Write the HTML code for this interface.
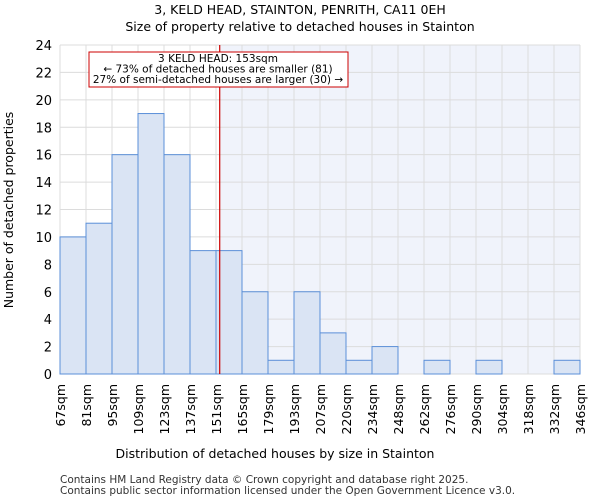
<!DOCTYPE html>
<html><head><meta charset="utf-8"><style>body{margin:0;background:#fff}svg{display:block;font-family:"DejaVu Sans","Liberation Sans",sans-serif}</style></head>
<body>
<svg id="chart" width="600" height="500">
<text x="300" y="14" text-anchor="middle" font-size="12.5">3, KELD HEAD, STAINTON, PENRITH, CA11 0EH</text>
<text x="300" y="31" text-anchor="middle" font-size="12.5">Size of property relative to detached houses in Stainton</text>
<g id="plot"></g>
<text x="275" y="458" text-anchor="middle" font-size="12.5">Distribution of detached houses by size in Stainton</text>
<text transform="translate(13,210) rotate(-90)" text-anchor="middle" font-size="12.5">Number of detached properties</text>
<text x="60" y="483" font-size="10.5" fill="#333">Contains HM Land Registry data © Crown copyright and database right 2025.</text>
<text x="60" y="494" font-size="10.5" fill="#333">Contains public sector information licensed under the Open Government Licence v3.0.</text>
</svg>
<script>
const binLabels=["67sqm","81sqm","95sqm","109sqm","123sqm","137sqm","151sqm","165sqm","179sqm","193sqm","207sqm","220sqm","234sqm","248sqm","262sqm","276sqm","290sqm","304sqm","318sqm","332sqm","346sqm"];
const counts=[10,11,16,19,16,9,9,6,1,6,3,1,2,0,1,0,1,0,0,1];
const yTicks=[0,2,4,6,8,10,12,14,16,18,20,22,24];
const markerValue=153;
const binEdges=[67,81,95,109,123,137,151,165,179,193,207,220,234,248,262,276,290,304,318,332,346];
const X0=60,X1=580,Y0=374,Y1=45,YMAX=24;
const n=counts.length,bw=(X1-X0)/n;
const xi=i=>X0+i*bw;
const y=v=>Y0-(v/YMAX)*(Y0-Y1);
function xv(v){for(let i=0;i<binEdges.length-1;i++){if(v<=binEdges[i+1])return xi(i)+(v-binEdges[i])/(binEdges[i+1]-binEdges[i])*bw;}return X1;}
const g=document.getElementById('plot');const NS='http://www.w3.org/2000/svg';
function mk(t,a){const e=document.createElementNS(NS,t);for(const k in a)e.setAttribute(k,a[k]);g.appendChild(e);return e;}
const mx=xv(markerValue);
let e=mk('rect',{x:mx,y:Y1,width:X1-mx,height:Y0-Y1,fill:'#f0f3fb'});


yTicks.forEach(t=>{const l=mk('line',{x1:X0,x2:X1,y1:y(t),y2:y(t),stroke:'#dcdcdc'});


const tx=mk('text',{x:X0-8,y:y(t)+5,'text-anchor':'end','font-size':13});tx.textContent=t;

});
binLabels.forEach((s,i)=>{const l=mk('line',{x1:xi(i),x2:xi(i),y1:Y1,y2:Y0,stroke:'#dcdcdc'});


const tx=mk('text',{transform:`translate(${xi(i)+5},${Y0+10}) rotate(-90)`,'text-anchor':'end','font-size':12.5});tx.textContent=s;

});
counts.forEach((c,i)=>{if(!c)return;const r=mk('rect',{x:xi(i),y:y(c),width:bw,height:Y0-y(c),fill:'#dae4f4',stroke:'#5b8fd8','stroke-width':1});

});
e=mk('line',{x1:mx,x2:mx,y1:Y1,y2:Y0,stroke:'#cc0000','stroke-width':1.2});


e=mk('rect',{x:89,y:52,width:259,height:35,fill:'#fff',stroke:'#cc0000'});


["3 KELD HEAD: 153sqm","← 73% of detached houses are smaller (81)","27% of semi-detached houses are larger (30) →"].forEach((s,i)=>{const t=mk('text',{x:218,y:62+i*10.5,'text-anchor':'middle','font-size':10.5});t.textContent=s;

});
</script>
</body></html>
